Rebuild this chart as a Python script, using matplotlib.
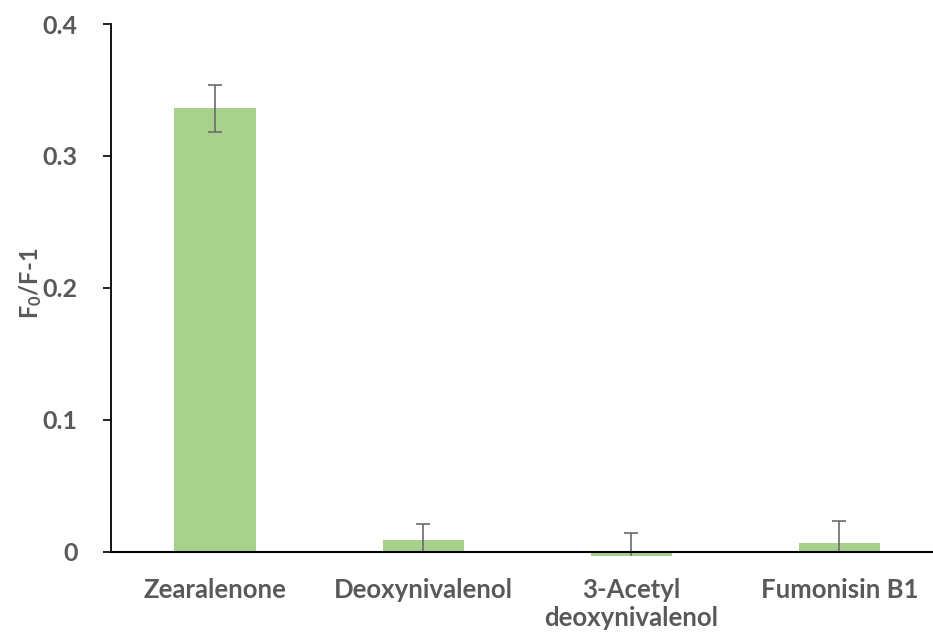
import numpy as np
import matplotlib.pyplot as plt

plt.rcParams['font.family'] = ['Lato', 'DejaVu Sans']
plt.rcParams['mathtext.fontset'] = 'custom'
plt.rcParams['mathtext.bf'] = 'Lato:bold'
plt.rcParams['mathtext.default'] = 'bf'

categories = ['Zearalenone', 'Deoxynivalenol', '3-Acetyl\ndeoxynivalenol', 'Fumonisin B1']
values = np.array([0.336, 0.0092, -0.003, 0.0068])
err_up = np.array([0.018, 0.0122, 0.017, 0.0167])
err_down = np.array([0.018, 0.0092, 0.0, 0.0068])

grey = '#595959'
fig = plt.figure(figsize=(9.33, 6.39), dpi=100)
ax = fig.add_axes([0.119, 0.1158, 0.881, 0.8466])

x = np.arange(len(categories))
ax.bar(x, values, width=0.39, color='#A9D18E', zorder=2)
ax.errorbar(x, values, yerr=[err_down, err_up], fmt='none', ecolor='#6b6b6b',
            elinewidth=1.2, capsize=0, zorder=3)
# caps: all upper ones, lower ones only where they sit above the axis
ax.plot(x, values + err_up, ls='none', marker='_', ms=10, mew=1.2, color='#6b6b6b', zorder=3)
low = values - err_down
m = low > 0.001
ax.plot(x[m], low[m], ls='none', marker='_', ms=10, mew=1.2, color='#6b6b6b', zorder=3)

ax.set_xlim(-0.5, 3.45)
ax.set_ylim(-0.01, 0.4)
ax.set_yticks([0, 0.1, 0.2, 0.3, 0.4])
ax.set_yticklabels(['0', '0.1', '0.2', '0.3', '0.4'])
ax.set_xticks(x)
ax.set_xticklabels(categories, linespacing=1.85)

for s in ['top', 'right']:
    ax.spines[s].set_visible(False)
ax.spines['bottom'].set_position(('data', 0))
ax.spines['bottom'].set_zorder(4)
ax.spines['bottom'].set_linewidth(1.5)
ax.spines['left'].set_linewidth(1.3)
ax.spines['left'].set_bounds(0, 0.4)

ax.tick_params(axis='y', direction='out', length=6, width=1.2, pad=18,
               labelsize=18, labelcolor=grey)
ax.tick_params(axis='x', length=0, pad=19, labelsize=18.5, labelcolor=grey)
for lab in ax.get_xticklabels() + ax.get_yticklabels():
    lab.set_fontweight('bold')

ax.set_ylabel(r'$F_0$/F-1', fontsize=17, fontweight='bold', color=grey)
ax.yaxis.set_label_coords(-0.082, 0.52)

plt.savefig('out.png', dpi=100)
